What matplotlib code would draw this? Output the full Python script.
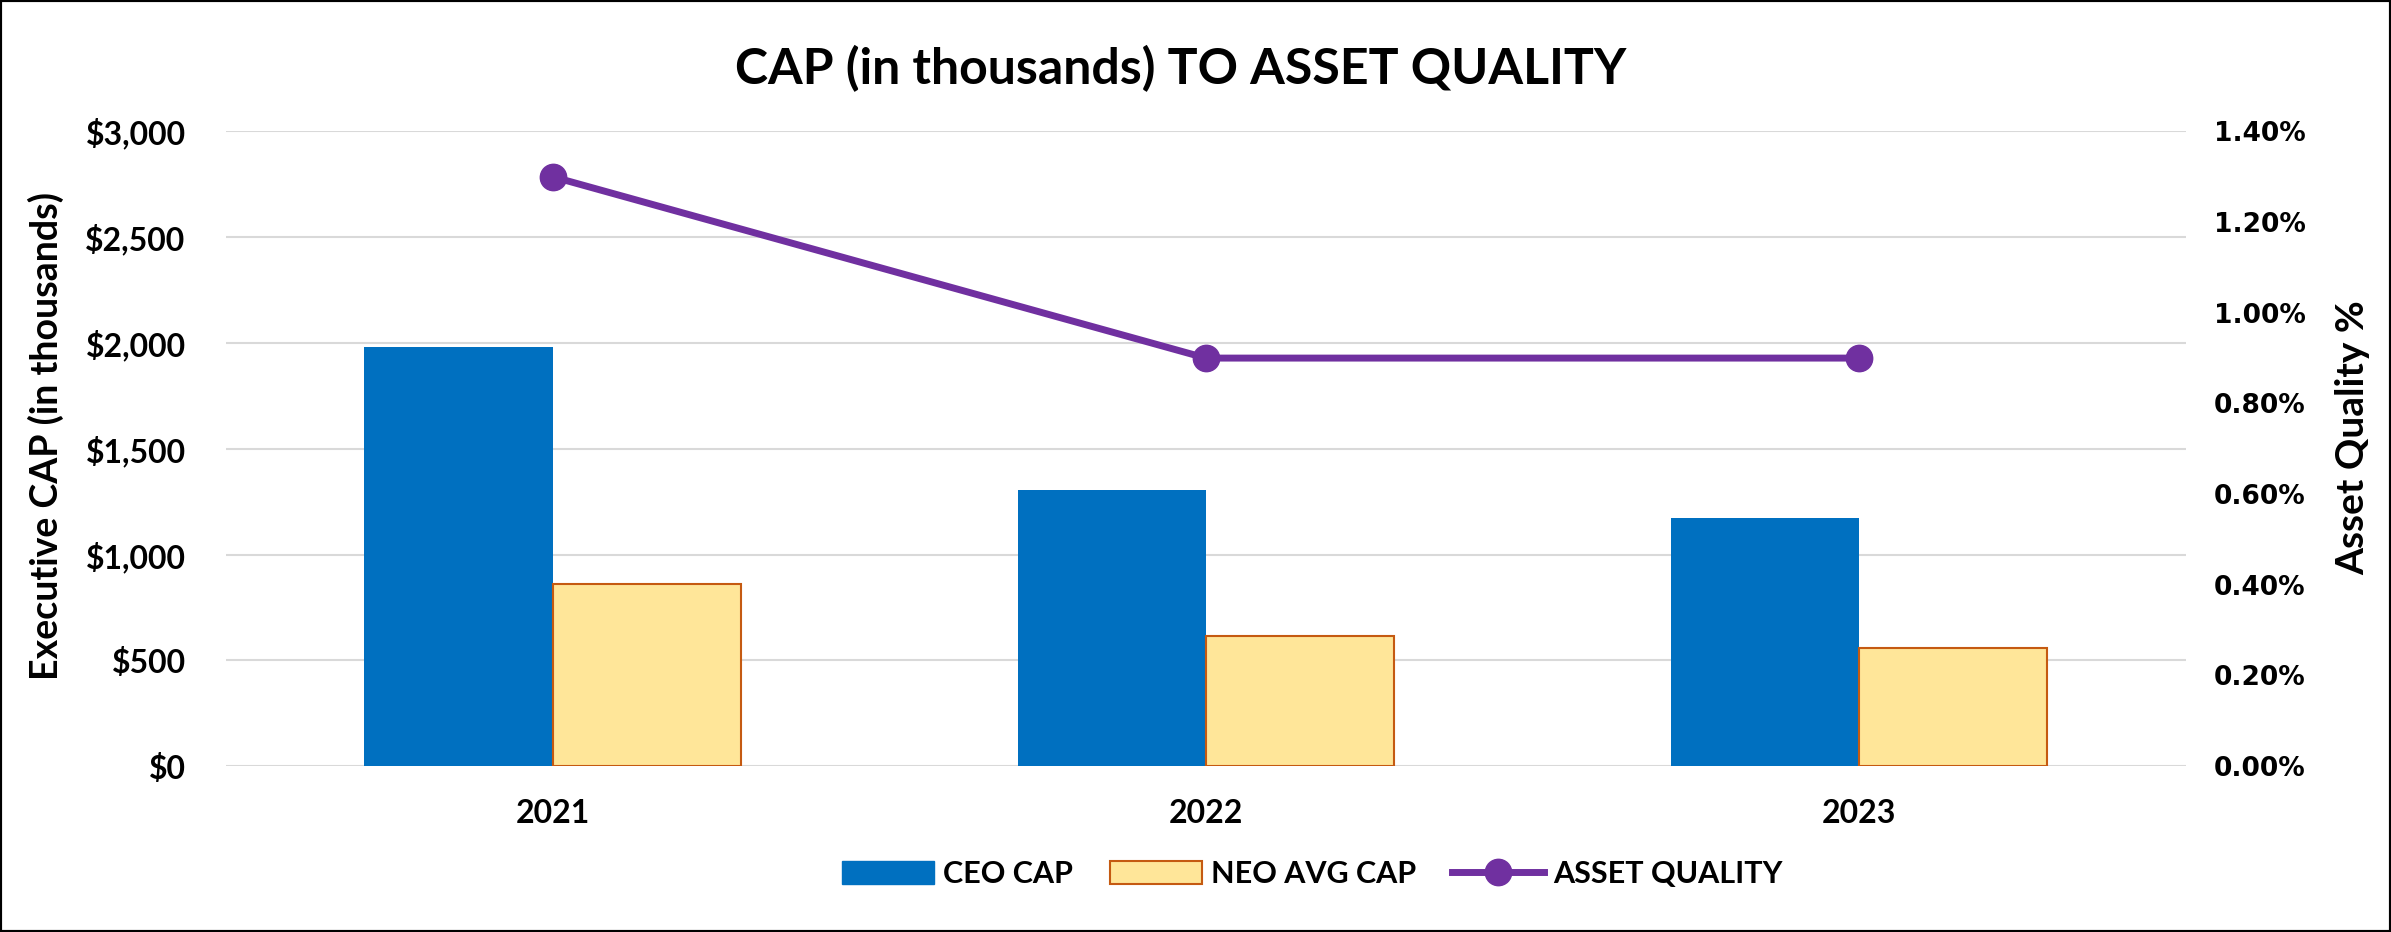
import matplotlib
matplotlib.use("Agg")
import matplotlib.pyplot as plt
import numpy as np
from matplotlib.ticker import FuncFormatter, MultipleLocator
from matplotlib.lines import Line2D
from matplotlib.patches import Patch, Rectangle

years = ["2021", "2022", "2023"]
ceo_cap = [1980, 1305, 1175]
neo_avg_cap = [860, 613, 556]
asset_quality = [1.30, 0.90, 0.90]

CEO_COLOR = "#0070C0"
NEO_COLOR = "#FFE699"
NEO_EDGE = "#C55A11"
LINE_COLOR = "#7030A0"
GRID_COLOR = "#D9D9D9"

plt.rcParams["font.family"] = ["Lato", "DejaVu Sans"]
plt.rcParams["font.weight"] = "bold"

fig = plt.figure(figsize=(23.91, 9.32), dpi=100)
ax = fig.add_axes([0.0945, 0.178, 0.8197, 0.681])
ax2 = ax.twinx()

x = np.arange(len(years))
w = 0.288
ax.bar(x - w / 2, ceo_cap, w, color=CEO_COLOR, zorder=2)
ax.bar(x + w / 2, neo_avg_cap, w, color=NEO_COLOR, edgecolor=NEO_EDGE, linewidth=1.5, zorder=2)

ax.set_xlim(-0.5, 2.5)
ax.set_ylim(0, 3000)
ax.yaxis.set_major_locator(MultipleLocator(500))
ax.yaxis.set_major_formatter(FuncFormatter(lambda v, p: f"${v:,.0f}"))
ax.set_xticks(x)
ax.set_xticklabels(years)
ax.grid(axis="y", color=GRID_COLOR, linewidth=1.5, zorder=0)
ax.set_axisbelow(True)
ax.tick_params(axis="y", length=0, pad=29, labelsize=23)
ax.tick_params(axis="x", length=0, pad=24, labelsize=23)

ax2.plot(x, np.array(asset_quality) / 100, color=LINE_COLOR, linewidth=5,
         marker="o", markersize=19, zorder=3)
ax2.set_ylim(0, 0.014)
ax2.yaxis.set_major_locator(MultipleLocator(0.002))
ax2.yaxis.set_major_formatter(FuncFormatter(lambda v, p: f"{v * 100:.2f}%"))
ax2.tick_params(axis="y", length=0, pad=20)
for lbl in ax2.get_yticklabels():
    lbl.set_fontfamily("DejaVu Sans")
    lbl.set_fontweight("bold")
    lbl.set_fontsize(19)

for a in (ax, ax2):
    for s in a.spines.values():
        s.set_visible(False)

fig.text(0.494, 0.926, "CAP (in thousands) TO ASSET QUALITY", ha="center", va="center",
         fontsize=36, fontweight="bold")
fig.text(0.0192, 0.532, "Executive CAP (in thousands)", ha="center", va="center",
         rotation=90, fontsize=27, fontweight="bold")
fig.text(0.984, 0.530, "Asset Quality %", ha="center", va="center",
         rotation=90, fontsize=28, fontweight="bold")

handles = [
    Patch(facecolor=CEO_COLOR, edgecolor=CEO_COLOR),
    Patch(facecolor=NEO_COLOR, edgecolor=NEO_EDGE, linewidth=1.5),
    Line2D([0], [0], color=LINE_COLOR, linewidth=5, marker="o", markersize=19),
]
fig.legend(handles, ["CEO CAP", "NEO AVG CAP", "ASSET QUALITY"], loc="center",
           bbox_to_anchor=(0.549, 0.062), ncol=3, frameon=False, fontsize=22,
           handlelength=3.0, handleheight=0.8, handletextpad=0.3, columnspacing=1.2)

fig.patches.append(Rectangle((0, 0), 1, 1, transform=fig.transFigure, fill=False,
                             edgecolor="black", linewidth=3))

fig.savefig("out.png", dpi=100)
